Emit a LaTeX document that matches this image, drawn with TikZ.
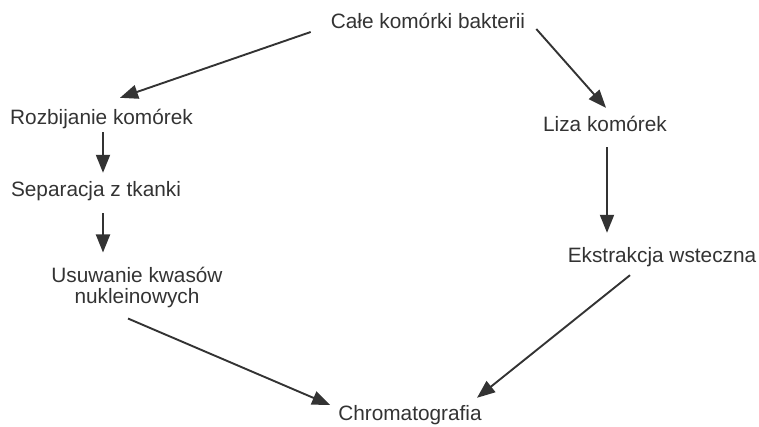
\documentclass[tikz,border=0pt]{standalone}
\usepackage{fontspec}
\setmainfont{Liberation Sans}
\usetikzlibrary{arrows.meta,calc}
\definecolor{ink}{HTML}{333333}
\begin{document}
\begin{tikzpicture}[x=1pt,y=-1pt,
  lbl/.style={inner sep=0pt,text=ink,font=\fontsize{20.8}{21}\selectfont,text height=15pt,text depth=4pt,anchor=base},
  lbl2/.style={inner sep=0pt,text=ink,font=\fontsize{20.8}{21}\selectfont,align=center,anchor=north},
  arr/.style={draw=ink,line width=1.9pt,-{Triangle[length=18pt,width=14pt]}}]
\useasboundingbox (0,0) rectangle (759,427);
\node[lbl] (cale) at (428,29) {Całe komórki bakterii};
\node[lbl] (rozb) at (101.5,125) {Rozbijanie komórek};
\node[lbl] (sep) at (96,197) {Separacja z tkanki};
\node[lbl2] (usuw) at (137,266.5) {Usuwanie kwasów\\nukleinowych};
\node[lbl] (liza) at (605,132) {Liza komórek};
\node[lbl] (ekst) at (662,262) {Ekstrakcja wsteczna};
\node[lbl] (chrom) at (410,420) {Chromatografia};
\draw[arr] ($(cale.west)+(-20,8.5)$) -- ($(rozb.north)+(18.5,-12)$);
\draw[arr] ($(cale.east)+(11,5.5)$) -- ($(liza.north)+(1,-9)$);
\draw[arr] ($(rozb.south)+(1.5,3)$) -- ($(sep.north)+(7,-9)$);
\draw[arr] ($(sep.south)+(7,12)$) -- ($(usuw.north)+(-34,-14)$);
\draw[arr] ($(liza.south)+(2,11)$) -- ($(ekst.north)+(-55,-14)$);
\draw[arr] ($(usuw.south)+(-9,11)$) -- ($(chrom.west)+(-8,-9.5)$);
\draw[arr] ($(ekst.south)+(-32,9)$) -- ($(chrom.north)+(67,-7)$);
\end{tikzpicture}
\end{document}
